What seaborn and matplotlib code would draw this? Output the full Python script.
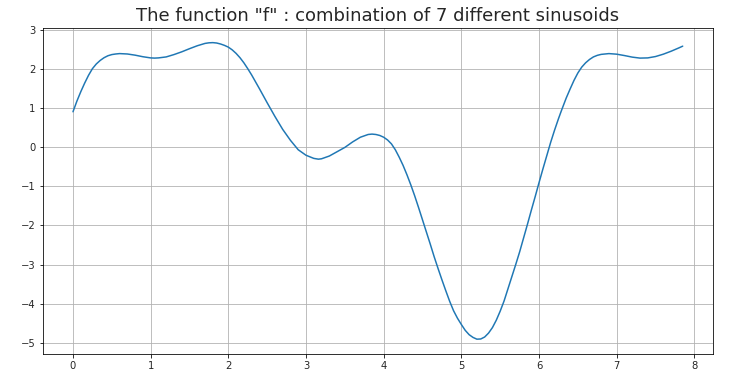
import matplotlib
matplotlib.use("Agg")
import matplotlib.pyplot as plt
import seaborn as sns
import pandas as pd

title = 'The function "f" : combination of 7 different sinusoids'

x_vals = [0.0, 0.05, 0.1, 0.15, 0.2, 0.25, 0.3, 0.35, 0.4, 0.45, 0.5, 0.55, 0.6,
          0.7, 0.8, 0.9, 1.0, 1.05, 1.1, 1.2, 1.3, 1.4, 1.5, 1.6, 1.7, 1.75, 1.8,
          1.85, 1.9, 1.95, 2.0, 2.05, 2.1, 2.15, 2.2, 2.25, 2.3, 2.4, 2.5, 2.6,
          2.7, 2.8, 2.9, 3.0, 3.1, 3.16, 3.2, 3.3, 3.4, 3.5, 3.6, 3.7, 3.8, 3.85,
          3.9, 3.95, 4.0, 4.05, 4.1, 4.15, 4.2, 4.25, 4.3, 4.35, 4.4, 4.45, 4.5,
          4.55, 4.6, 4.65, 4.7, 4.75, 4.8, 4.85, 4.9, 4.95, 5.0, 5.05, 5.1, 5.15,
          5.2, 5.25, 5.3, 5.35, 5.4, 5.45, 5.5, 5.55, 5.6, 5.65, 5.7, 5.75, 5.8,
          5.85, 5.9, 5.95, 6.0, 6.05, 6.1, 6.15, 6.2, 6.25, 6.283, 6.3, 6.35,
          6.4, 6.45, 6.5, 6.55, 6.6, 6.65, 6.7, 6.75, 6.8, 6.9, 7.0, 7.1, 7.2,
          7.3, 7.4, 7.5, 7.6, 7.7, 7.8, 7.85]
y_vals = [0.90, 1.17, 1.41, 1.63, 1.83, 2.00, 2.12, 2.21, 2.28, 2.33, 2.36, 2.375, 2.385,
          2.375, 2.345, 2.305, 2.275, 2.27, 2.275, 2.30, 2.36, 2.43, 2.51, 2.585, 2.645, 2.66, 2.665,
          2.655, 2.63, 2.595, 2.55, 2.48, 2.39, 2.28, 2.15, 2.00, 1.84, 1.49, 1.13, 0.78,
          0.45, 0.17, -0.07, -0.21, -0.29, -0.31, -0.30, -0.23, -0.12, -0.01, 0.13, 0.25, 0.32, 0.33,
          0.32, 0.295, 0.25, 0.18, 0.08, -0.07, -0.26, -0.47, -0.71, -0.97, -1.25, -1.55, -1.86,
          -2.17, -2.48, -2.80, -3.10, -3.39, -3.67, -3.94, -4.18, -4.37, -4.53, -4.68, -4.79, -4.86,
          -4.905, -4.90, -4.85, -4.75, -4.61, -4.42, -4.19, -3.93, -3.62, -3.31, -3.00, -2.68, -2.33,
          -1.98, -1.62, -1.27, -0.91, -0.56, -0.22, 0.12, 0.43, 0.72, 0.90, 0.99, 1.25,
          1.48, 1.70, 1.89, 2.04, 2.15, 2.235, 2.30, 2.34, 2.365, 2.385, 2.37, 2.335, 2.295,
          2.27, 2.275, 2.31, 2.37, 2.445, 2.53, 2.575]

df = pd.DataFrame({"x": x_vals, "y": y_vals})

sns.set_style("ticks")
plt.rcParams["font.family"] = ["DejaVu Sans"]

fig = plt.figure(figsize=(747 / 72, 376 / 72), dpi=72)
fig.patch.set_facecolor("white")
ax = fig.add_axes([42.5 / 747, 22 / 376, (713.2 - 42.5) / 747, (354 - 27.8) / 376])

sns.lineplot(data=df, x="x", y="y", ax=ax, color="#1f77b4", linewidth=1.5)

ax.set_xlabel("")
ax.set_ylabel("")
ax.set_title(title, fontsize=18, pad=7)
ax.grid(True, color="#b0b0b0", linewidth=0.8)
ax.tick_params(labelsize=10, color="black", length=3.5, width=0.8)
for s in ax.spines.values():
    s.set_color("black")
    s.set_linewidth(0.8)

fig.savefig("out.png", dpi=72, facecolor="white")
